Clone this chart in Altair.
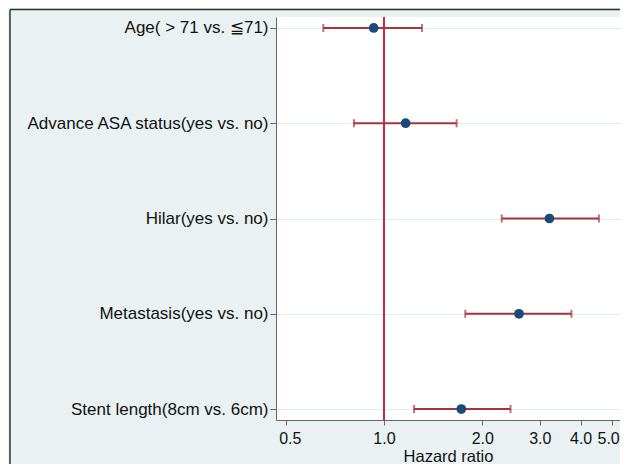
import altair as alt
import pandas as pd

labels = [
    "Age( > 71 vs. ≦71)",
    "Advance ASA status(yes vs. no)",
    "Hilar(yes vs. no)",
    "Metastasis(yes vs. no)",
    "Stent length(8cm vs. 6cm)",
]
hr = [0.93, 1.165, 3.21, 2.59, 1.725]
lower = [0.652, 0.809, 2.293, 1.774, 1.236]
upper = [1.307, 1.669, 4.55, 3.75, 2.44]
x_ticks = [0.5, 1.0, 2.0, 3.0, 4.0, 5.0]
ref_value = [1.0]

df = pd.DataFrame({"label": labels, "hr": hr, "lo": lower, "hi": upper})
ref_df = pd.DataFrame({"ref": ref_value})

FONT = "Liberation Sans"
CI_COLOR = "#a8323e"

xscale = alt.Scale(type="log", domain=[0.467, 5.28], nice=False, zero=False)
yscale = alt.Scale(type="point", domain=labels, padding=0.115)

xaxis = alt.Axis(
    values=x_ticks, format=".1f", title="Hazard ratio", grid=False,
    labelFont=FONT, labelFontSize=16, labelColor="#111", labelPadding=5,
    titleFont=FONT, titleFontSize=16.5, titleFontWeight="normal", titleColor="#111",
    titlePadding=2, tickSize=5, tickColor="#666", domainColor="#666",
    labelFlush=10, labelFlushOffset=7, labelOverlap=False,
)
yaxis = alt.Axis(
    title=None, grid=True, gridColor="#ddecef", gridWidth=1,
    labelFont=FONT, labelFontSize=17, labelColor="#111", labelPadding=2,
    tickSize=6, tickColor="#666", domainColor="#666", labelLimit=400,
)

base = alt.Chart(df)

ci = base.mark_rule(color=CI_COLOR, strokeWidth=2).encode(
    x=alt.X("lo:Q", scale=xscale, axis=xaxis),
    x2="hi:Q",
    y=alt.Y("label:N", scale=yscale, axis=yaxis, sort=labels),
)
cap_lo = base.mark_tick(color=CI_COLOR, thickness=2, size=8, orient="vertical").encode(
    x=alt.X("lo:Q", scale=xscale), y=alt.Y("label:N", scale=yscale, sort=labels)
)
cap_hi = base.mark_tick(color=CI_COLOR, thickness=2, size=8, orient="vertical").encode(
    x=alt.X("hi:Q", scale=xscale), y=alt.Y("label:N", scale=yscale, sort=labels)
)
ref = alt.Chart(ref_df).mark_rule(color="#c8283c", strokeWidth=2).encode(
    x=alt.X("ref:Q", scale=xscale)
)
pts = base.mark_circle(color="#1b4a7a", opacity=1, size=95).encode(
    x=alt.X("hr:Q", scale=xscale), y=alt.Y("label:N", scale=yscale, sort=labels)
)

frame_top = alt.Chart(ref_df).mark_rule(color="#333", strokeWidth=1.5).encode(
    x=alt.value(-266), x2=alt.value(400), y=alt.value(-7.5)
)
frame_left = alt.Chart(ref_df).mark_rule(color="#333", strokeWidth=1.5).encode(
    x=alt.value(-266), y=alt.value(-7.5), y2=alt.value(460)
)

chart = alt.layer(ci, cap_lo, cap_hi, ref, pts, frame_top, frame_left).properties(
    width=344, height=403,
    autosize=alt.AutoSizeParams(type="none"),
    padding={"left": 268, "top": 9, "right": 0, "bottom": 44},
    background="#e9f1f3",
).configure_view(fill="white", stroke=None)

chart.save("out.html", embed_options={"renderer": "svg", "actions": False})
